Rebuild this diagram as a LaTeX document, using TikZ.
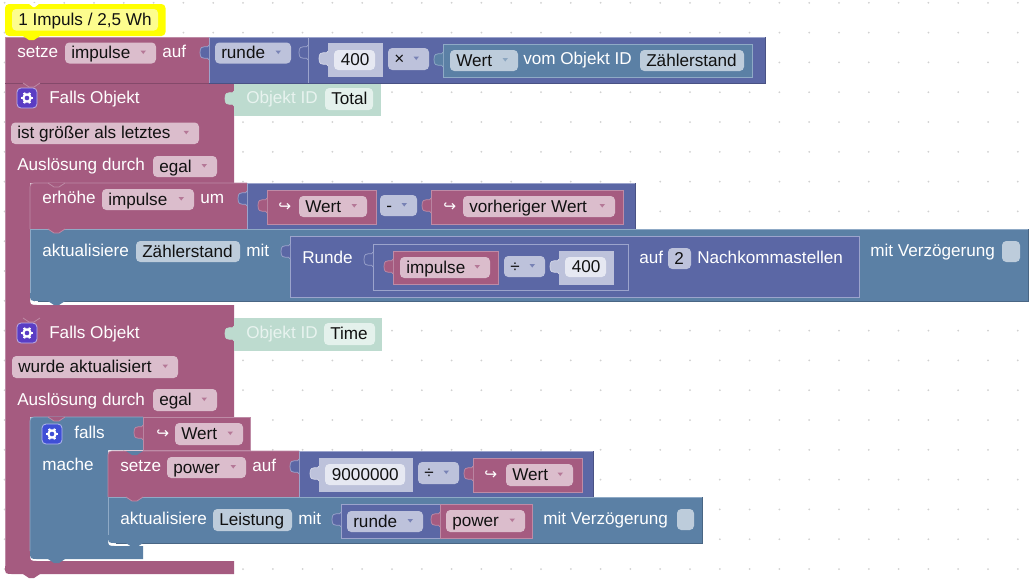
\documentclass[tikz,border=0pt]{standalone}
\usepackage{fontspec}
\setmainfont{Liberation Sans}
\newfontfamily\arrowfont{DejaVu Sans}
\definecolor{pink}{HTML}{A55B80}\definecolor{pinkL}{HTML}{BE8BA6}\definecolor{pinkD}{HTML}{84496A}
\definecolor{vio}{HTML}{5B67A5}\definecolor{vioL}{HTML}{9CA4CC}\definecolor{vioD}{HTML}{495284}
\definecolor{steel}{HTML}{5B80A5}\definecolor{steelL}{HTML}{8FAAC6}\definecolor{steelD}{HTML}{496684}
\definecolor{lite}{HTML}{BDC2DB}\definecolor{liteL}{HTML}{D5D8E8}\definecolor{liteD}{HTML}{BDC2DB}
\definecolor{mint}{HTML}{BDDBCF}\definecolor{mintL}{HTML}{BDDBCF}\definecolor{mintD}{HTML}{BDDBCF}
\definecolor{fpink}{HTML}{DBBDCC}\definecolor{fvio}{HTML}{BDC2DB}\definecolor{fsteel}{HTML}{BDCCDB}
\definecolor{fwhite}{HTML}{E6E8F2}\definecolor{fmint}{HTML}{E4F1EC}
\definecolor{tmint}{HTML}{E8F3EF}\definecolor{txt}{HTML}{111111}
\definecolor{yel}{HTML}{FFFF00}\definecolor{yelin}{HTML}{FDFD8E}
\definecolor{gearA}{HTML}{5A3DC4}\definecolor{gearB}{HTML}{3F4FD6}
\newcounter{tn}
\tikzset{
  lab/.style={anchor=base west,inner sep=0pt,text=white,font=\fontsize{12.85}{14}\selectfont},
  fldtext/.style={lab,text=txt},
  fieldbox/.style={rounded corners=3.2pt},
  thinline/.style={line width=0.55pt},
}
% label: x, y centre, text
\newcommand{\lbl}[3]{\stepcounter{tn}\node[lab,name=t\arabic{tn}] at (#1,#2+5.5) {#3};}
\newcommand{\mlbl}[3]{\stepcounter{tn}\node[lab,text=tmint,name=t\arabic{tn}] at (#1,#2+5.5) {#3};}
% field with no arrow: x0 y0 x1 y1 colour text
\newcommand{\fld}[6]{\fill[#5,fieldbox] (#1,#2) rectangle (#3,#4);
  \stepcounter{tn}\node[fldtext,name=t\arabic{tn}] at (#1+6,#2/2+#4/2+5.5) {#6};}
% field with a drop-down mark
\newcommand{\dfld}[7]{\fld{#1}{#2}{#3}{#4}{#5}{#6}
  \fill[#7] (#3-15.5,#2/2+#4/2-2.5) -- (#3-10,#2/2+#4/2-2.5) -- (#3-12.75,#2/2+#4/2+1) -- cycle;}
% rectangular block with lit top-left and dark bottom-right
\newcommand{\blk}[5]{\fill[#5] (#1,#2) rectangle (#3,#4);
  \draw[#5L,thinline] (#1,#4) -- (#1,#2) -- (#3,#2);
  \draw[#5D,thinline] (#3,#2) -- (#3,#4) -- (#1,#4);}
% nested block with a lit outline
\newcommand{\oblk}[5]{\fill[#5] (#1,#2) rectangle (#3,#4);
  \draw[#5L,thinline] (#1,#2) rectangle (#3,#4);}
% puzzle tab: x y colour
\newcommand{\tabp}[3]{\fill[#3] (#1,#2) .. controls (#1,#2+5) and (#1-9,#2-3) .. (#1-9,#2+7.5) .. controls (#1-9,#2+18) and (#1,#2+10) .. (#1,#2+15) -- cycle;
  \draw[#3L,thinline] (#1,#2) .. controls (#1,#2+5) and (#1-9,#2-3) .. (#1-9,#2+7.5) .. controls (#1-9,#2+18) and (#1,#2+10) .. (#1,#2+15);}
% notch under a block: x y colour
\newcommand{\notchp}[3]{\fill[#3] (#1,#2) -- (#1+6,#2+4) -- (#1+11,#2+4) -- (#1+17,#2) -- cycle;}
\newcommand{\seam}[3]{\notchp{#1}{#2}{#3}\draw[#3L,thinline] (#1,#2) -- (#1+6,#2+4) -- (#1+11,#2+4) -- (#1+17,#2);}
% gear button: x y fill
\newcommand{\gearb}[3]{\fill[#3,draw=white!60!#3,line width=0.6pt,rounded corners=3pt] (#1,#2) rectangle (#1+20,#2+20);
  \foreach \a in {0,60,120}{\draw[white,line width=1.7pt] ({#1+10+6*cos(\a)},{#2+10+6*sin(\a)}) -- ({#1+10-6*cos(\a)},{#2+10-6*sin(\a)});}
  \fill[white] (#1+10,#2+10) circle (4.8);\fill[#3] (#1+10,#2+10) circle (2.3);}
\newcommand{\hook}[2]{\stepcounter{tn}\node[lab,font=\arrowfont\fontsize{11.5}{14}\selectfont,name=t\arabic{tn}] at (#1,#2+5) {↪};}
\begin{document}
\begin{tikzpicture}[x=0.75pt,y=-0.75pt]
\useasboundingbox (0,0) rectangle (1033,583);
\fill[white] (0,0) rectangle (1033,583);
% grid dots
\foreach \i in {0,...,34}{\foreach \j in {0,...,19}{\fill[black!18] (4.6+29.8*\i,2.8+29.8*\j) circle (1);}}
% ---------- Falls Objekt 1
\fill[pink] (5,83) -- (234,83) -- (234,183) -- (30,183) -- (30,297) .. controls (30,305) .. (38,305) -- (234,305) -- (234,318) -- (5,318) -- cycle;
\draw[pinkL,thinline] (5,318) -- (5,83);
\draw[pinkL,thinline] (30,191) -- (30,297);
% ---------- Falls Objekt 2
\fill[pink] (5,318) -- (234,318) -- (234,417) -- (30,417) -- (30,553) .. controls (30,561) .. (38,561) -- (234,561) -- (234,574) -- (13,574) .. controls (5,574) .. (5,566) -- cycle;
\draw[pinkL,thinline] (5,566) -- (5,318);
\draw[pinkL,thinline] (30,425) -- (30,553);
\notchp{23}{574}{pink}
% ---------- Objekt ID blocks
\fill[mint] (234,83.5) rectangle (381,116);
\tabp{234}{91}{mint}
\mlbl{246}{98}{Objekt ID}
\fld{325}{88}{373}{110}{fmint}{Total}
\fill[mint] (234,318) rectangle (382,351);
\tabp{234}{326}{mint}
\mlbl{246}{333}{Objekt ID}
\fld{324}{323}{375}{345}{fmint}{Time}
% ---------- top row
\blk{5}{37}{209}{83}{pink}
\blk{209}{37}{308}{83}{vio}
\tabp{209}{45}{vio}
\blk{308}{37}{765}{83}{vio}
\tabp{308}{45}{vio}
\lbl{17}{52}{setze}
\dfld{65}{42.5}{156}{63.5}{fpink}{impulse}{pink!70!fpink}
\lbl{162}{52}{auf}
\dfld{215}{42.5}{291}{63.5}{fvio}{runde}{vio!70!fvio}
\fill[lite] (328,43) rectangle (383,77);
\tabp{328}{51}{lite}
\fld{334}{50}{375}{70}{fwhite}{\hspace{0.5pt}400}
\dfld{388}{48}{429}{70}{fvio}{×}{vio!70!fvio}
\oblk{443}{44}{752}{77}{steel}
\tabp{443}{52}{steel}
\dfld{450}{50}{518}{71}{fsteel}{Wert}{steel!50!fsteel}
\lbl{523}{59}{vom Objekt ID}
\fld{640}{50}{744}{71}{fsteel}{Zählerstand}
\seam{23}{83}{pink}
% falls 1 texts
\gearb{17}{88}{gearA}
\lbl{49}{98}{Falls Objekt}
\dfld{11}{122.5}{199}{144}{fpink}{ist größer als letztes}{pink!70!fpink}
\lbl{17}{165}{Auslösung durch}
\dfld{153}{156}{217}{177}{fpink}{egal}{pink!70!fpink}
% ---------- erhöhe
\fill[pink] (38,183) .. controls (30,183) .. (30,191) -- (30,229) -- (247,229) -- (247,183) -- cycle;
\draw[pinkL,thinline] (30,229) -- (30,191) .. controls (30,183) .. (38,183) -- (247,183);
\blk{247}{183}{635}{229}{vio}
\tabp{247}{191}{vio}
\lbl{42}{198}{erhöhe}
\dfld{102}{189}{194}{210}{fpink}{impulse}{pink!70!fpink}
\lbl{200}{198}{um}
\oblk{267}{190}{376}{224}{pink}
\tabp{267}{198}{pink}
\hook{278}{206}
\dfld{299}{196}{367}{217}{fpink}{Wert}{pink!70!fpink}
\dfld{380}{195}{417}{216}{fvio}{-}{vio!70!fvio}
\oblk{431}{190}{623}{224}{pink}
\tabp{431}{198}{pink}
\hook{443}{206}
\dfld{463}{196}{615}{217}{fpink}{vorheriger Wert}{pink!70!fpink}
\seam{48}{183}{pink}
% ---------- aktualisiere Zählerstand
\fill[steel] (30,229) -- (1028,229) -- (1028,301) -- (38,301) .. controls (30,301) .. (30,293) -- cycle;
\draw[steelL,thinline] (30,293) -- (30,229) -- (1028,229);
\draw[steelD,thinline] (1028,229) -- (1028,301) -- (38,301);
\seam{48}{229}{pink}
\notchp{48}{301}{steel}
\lbl{42}{251}{aktualisiere}
\fld{136}{241}{240}{262}{fsteel}{Zählerstand}
\lbl{246}{251}{mit}
\oblk{290}{236}{859}{297}{vio}
\tabp{290}{244}{vio}
\lbl{302}{258}{Runde}
\oblk{373}{244}{628}{290}{vio}
\tabp{373}{252}{vio}
\oblk{393}{251}{498}{284}{pink}
\tabp{393}{259}{pink}
\dfld{400}{257}{490}{278}{fpink}{impulse}{pink!70!fpink}
\dfld{504}{256}{545}{277}{fvio}{÷}{vio!70!fvio}
\fill[lite] (559,251) rectangle (614,285);
\tabp{559}{259}{lite}
\fld{565}{257}{606}{277}{fwhite}{\hspace{0.5pt}400}
\lbl{639}{258}{auf}
\fld{668}{248}{691}{269}{fvio}{2}
\lbl{697}{258}{Nachkommastellen}
\lbl{870}{251}{mit Verzögerung}
\fill[fsteel,fieldbox] (1002,241) rectangle (1020,262);
\seam{23}{318}{pink}
% falls 2 texts
\gearb{17}{323}{gearA}
\lbl{49}{333}{Falls Objekt}
\dfld{12}{356}{178}{378}{fpink}{wurde aktualisiert}{pink!70!fpink}
\lbl{17}{400}{Auslösung durch}
\dfld{153}{389}{217}{411}{fpink}{egal}{pink!70!fpink}
% ---------- falls
\fill[steel] (38,417) .. controls (30,417) .. (30,425) -- (30,551) .. controls (30,559) .. (38,559) -- (143,559) -- (143,546) -- (116,546) .. controls (108,546) .. (108,538) -- (108,450) -- (143,450) -- (143,417) -- cycle;
\draw[steelL,thinline] (30,551) -- (30,425) .. controls (30,417) .. (38,417) -- (143,417);
\notchp{48}{559}{steel}
\oblk{143}{417}{250}{450}{pink}
\tabp{143}{425}{pink}
\seam{48}{417}{pink}
\gearb{42}{424}{gearB}
\lbl{74}{433}{falls}
\lbl{42}{465}{mache}
\hook{156}{433}
\dfld{175}{423}{243}{445}{fpink}{Wert}{pink!70!fpink}
% ---------- setze power
\fill[pink] (116,451) .. controls (108,451) .. (108,459) -- (108,497) -- (299,497) -- (299,451) -- cycle;
\draw[pinkL,thinline] (108,497) -- (108,459) .. controls (108,451) .. (116,451) -- (299,451);
\blk{299}{451}{593}{497}{vio}
\tabp{299}{459}{vio}
\lbl{120}{466}{setze}
\dfld{167}{457}{246}{478}{fpink}{power}{pink!70!fpink}
\lbl{252}{466}{auf}
\fill[lite] (319,458) rectangle (413,492);
\tabp{319}{466}{lite}
\fld{325}{464}{405}{485}{fwhite}{\hspace{0.5pt}9000000}
\dfld{418}{462}{459}{484}{fvio}{÷}{vio!70!fvio}
\oblk{473}{458}{582}{492}{pink}
\tabp{473}{466}{pink}
\hook{484}{474}
\dfld{506}{464}{573}{486}{fpink}{Wert}{pink!70!fpink}
\notchp{126}{451}{steel}
% ---------- aktualisiere Leistung
\fill[steel] (108,497) -- (702,497) -- (702,543) -- (116,543) .. controls (108,543) .. (108,535) -- cycle;
\draw[steelL,thinline] (108,535) -- (108,497) -- (702,497);
\draw[steelD,thinline] (702,497) -- (702,543) -- (116,543);
\seam{126}{497}{pink}
\notchp{126}{543}{steel}
\lbl{120}{519}{aktualisiere}
\fld{213}{509}{292}{531}{fsteel}{Leistung}
\lbl{298}{519}{mit}
\oblk{341}{504}{440}{538}{vio}
\tabp{341}{512}{vio}
\dfld{347}{511}{423}{532}{fvio}{runde}{vio!70!fvio}
\oblk{440}{504}{532}{538}{pink}
\tabp{440}{512}{pink}
\dfld{446}{510}{525}{532}{fpink}{power}{pink!70!fpink}
\lbl{543}{519}{mit Verzögerung}
\fill[fsteel,fieldbox] (677,509) rectangle (694,530);
% ---------- comment
\fill[yel,rounded corners=3pt] (5,4) rectangle (165.5,36);
\fill[white] (28,3) -- (33,7) -- (35,7) -- (40,3) -- cycle;
\notchp{23}{36}{yel}
\fill[yelin,rounded corners=3pt] (12,9) rectangle (158,30.5);
\stepcounter{tn}\node[fldtext,name=t\arabic{tn}] at (18,25) {1 Impuls / 2,5 Wh};
\end{tikzpicture}
\end{document}
